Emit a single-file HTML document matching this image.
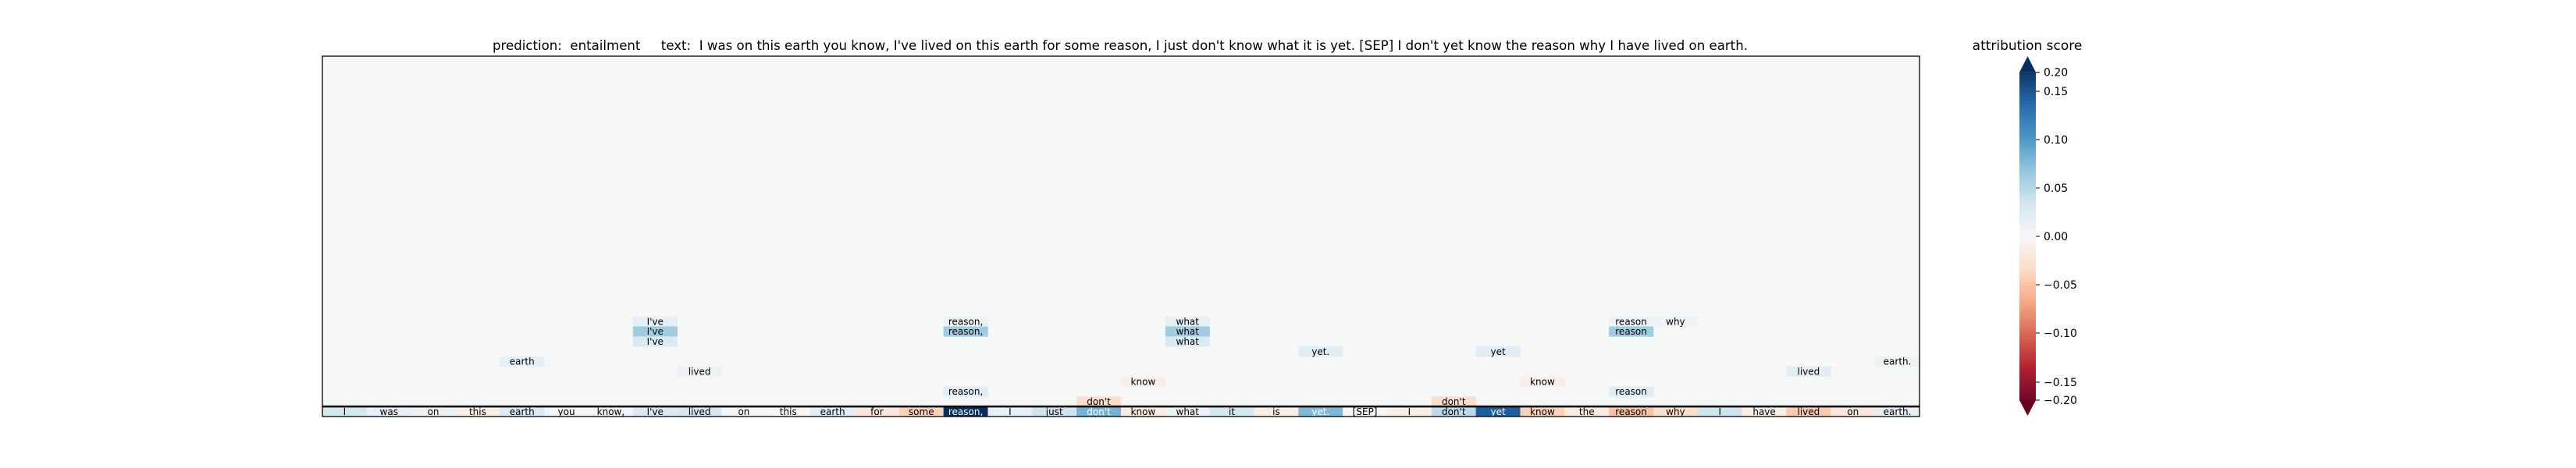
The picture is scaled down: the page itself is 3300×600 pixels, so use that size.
<!DOCTYPE html>
<html><head><meta charset="utf-8"><style>
html,body{margin:0;padding:0;background:#fff;width:3300px;height:600px;overflow:hidden}
svg text{font-family:"DejaVu Sans","Liberation Sans",sans-serif}
.pre{white-space:pre}
</style></head><body>
<svg id="chart" width="3300" height="600" viewBox="0 0 3300 600" xmlns="http://www.w3.org/2000/svg">
<text class="pre" xml:space="preserve" x="1435" y="64" font-size="17" text-anchor="middle" textLength="1608" lengthAdjust="spacingAndGlyphs" fill="#000">prediction:  entailment     text:  I was on this earth you know, I've lived on this earth for some reason, I just don't know what it is yet. [SEP] I don't yet know the reason why I have lived on earth.</text>
<text x="2597" y="64" font-size="17" text-anchor="middle" fill="#000">attribution score</text>
<g id="cells"></g>
<g id="cbar"></g>
</svg>
<script>
const tokens = ["I","was","on","this","earth","you","know,","I've","lived","on","this","earth","for","some","reason,","I","just","don't","know","what","it","is","yet.","[SEP]","I","don't","yet","know","the","reason","why","I","have","lived","on","earth."];
const tokenScores = [0.03,0.015,0.01,-0.01,0.025,0.004,0.004,0.025,0.03,0.002,0.002,0.02,-0.02,-0.04,0.2,0.015,0.035,0.08,-0.015,0.01,0.03,-0.01,0.075,0.004,-0.01,0.045,0.14,-0.04,-0.015,-0.05,-0.03,0.035,-0.01,-0.045,-0.02,0.015];
const extraCols = [7,7,7,4,8,14,14,14,19,19,19,22,26,35,33,18,27,29,17,25,29,29,30];
const extraRows = [26,27,28,30,31,26,27,33,26,27,28,29,29,30,31,32,32,33,34,34,26,27,26];
const extraScores = [0.015,0.06,0.025,0.015,0.01,0.01,0.06,0.02,0.015,0.06,0.025,0.02,0.02,0.01,0.02,-0.01,-0.01,0.02,-0.03,-0.03,0.01,0.06,0.01];
const cbTicks = [0.2,0.15,0.1,0.05,0,-0.05,-0.1,-0.15,-0.2];
const cbTickY = [92.7,117,179,241,303,365,427,490,513];

const X0=413, X1=2459, Y0=72, Y1=534, N=36;
const cw=(X1-X0)/N, ch=(Y1-Y0)/N;
const xOf=c=>X0+c*cw, yOf=r=>Y0+r*ch;
const stops=["#67001f","#b2182b","#d6604d","#f4a582","#fddbc7","#f7f7f7","#d1e5f0","#92c5de","#4393c3","#2166ac","#053061"];
function hex(h){return [1,3,5].map(i=>parseInt(h.substr(i,2),16));}
function cmapFrac(t){t=Math.max(0,Math.min(1,t));const p=t*10,i=Math.min(9,Math.floor(p)),f=p-i;const a=hex(stops[i]),b=hex(stops[i+1]);
 return `rgb(${a.map((v,k)=>Math.round(v+(b[k]-v)*f)).join(",")})`;}
const norm=v=>0.5+v*2.96;
const color=v=>cmapFrac(norm(v));
const NS="http://www.w3.org/2000/svg";
const cells=document.getElementById("cells");
function mk(tag,attrs,parent){const e=document.createElementNS(NS,tag);for(const k in attrs)e.setAttribute(k,attrs[k]);parent.appendChild(e);return e;}
const bg=mk("rect",{x:X0,y:Y0,width:X1-X0,height:Y1-Y0,fill:color(0.0008)},cells);


function cell(c,r,v,txt){
 const g=mk("g",{},cells);
 
 
 mk("rect",{x:xOf(c),y:yOf(r),width:cw+0.3,height:ch+0.3,fill:color(v)},g);
 const t=mk("text",{x:xOf(c)+cw/2,y:yOf(r)+ch/2+4.3,"font-size":12,"text-anchor":"middle",fill:Math.abs(v)>0.07?"#fff":"#000"},g);
 t.textContent=txt;
}
for(let i=0;i<extraCols.length;i++) cell(extraCols[i],extraRows[i],extraScores[i],tokens[extraCols[i]]);
for(let i=0;i<tokens.length;i++) cell(i,35,tokenScores[i],tokens[i]);
const sep=mk("line",{x1:X0,x2:X1,y1:yOf(35),y2:yOf(35),stroke:"#000","stroke-width":2.5},cells);


const frame=mk("rect",{x:X0,y:Y0,width:X1-X0,height:Y1-Y0,fill:"none",stroke:"#000","stroke-width":1.3},cells);



const cb=document.getElementById("cbar");
const CX0=2587, CX1=2608, CT=92.7, CB=513;
for(let y=CT;y<CB;y+=1){const f=(CB-y)/(CB-CT);mk("rect",{x:CX0,y:y,width:CX1-CX0,height:1.2,fill:cmapFrac(f)},cb);}
const up=mk("polygon",{points:`${CX0},${CT} ${CX1},${CT} ${(CX0+CX1)/2},72`,fill:cmapFrac(1)},cb);


const dn=mk("polygon",{points:`${CX0},${CB} ${CX1},${CB} ${(CX0+CX1)/2},533`,fill:cmapFrac(0)},cb);


for(let i=0;i<cbTicks.length;i++){
 const g=mk("g",{},cb);
 
 
 mk("line",{x1:CX1,x2:CX1+5,y1:cbTickY[i],y2:cbTickY[i],stroke:"#000","stroke-width":1},g);
 const t=mk("text",{x:CX1+10,y:cbTickY[i]+5,"font-size":14,fill:"#000"},g);
 t.textContent=(cbTicks[i]<0?"\u2212":"")+Math.abs(cbTicks[i]).toFixed(2);
}
</script>
</body></html>
